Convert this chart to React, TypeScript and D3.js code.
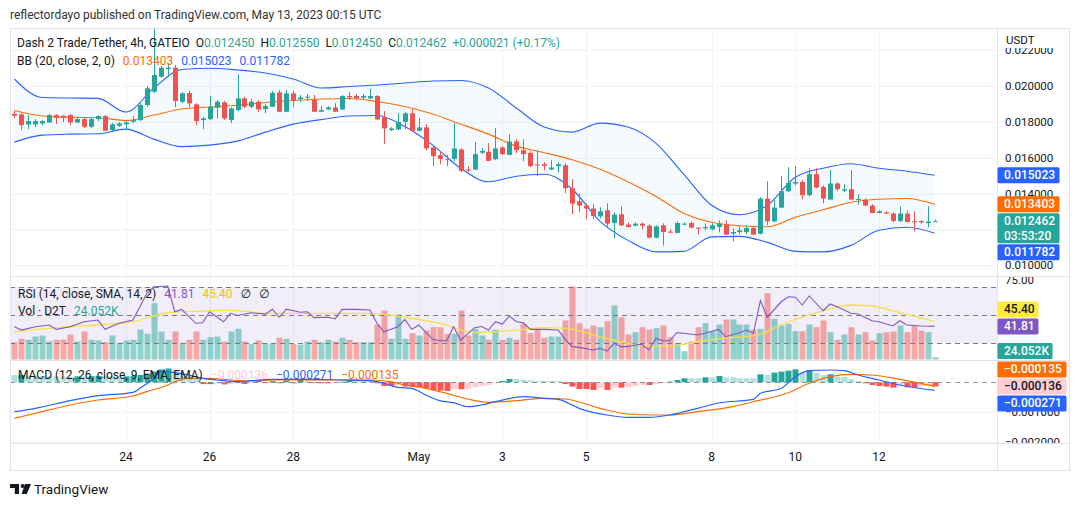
import React, { useEffect, useRef } from "react";
import * as d3 from "d3";

// Velas de 4h, D2T/USDT (GATEIO)
const opens = [
  0.018451, 0.018417, 0.017858, 0.017858, 0.017914, 0.01797, 0.018378, 0.018339, 0.018378, 0.01797,
  0.018155, 0.017724, 0.018155, 0.018322, 0.01754, 0.01778, 0.017858, 0.018004, 0.018099, 0.018937,
  0.019681, 0.020519, 0.02095, 0.021022, 0.019122, 0.019608, 0.018976, 0.018099, 0.018155, 0.018785,
  0.019089, 0.018099, 0.018658, 0.019312, 0.018842, 0.019122, 0.018714, 0.018842, 0.019643, 0.018563,
  0.019586, 0.019273, 0.019368, 0.019217, 0.018563, 0.018692, 0.018803, 0.018692, 0.01944, 0.01944,
  0.019346, 0.019312, 0.01944, 0.01825, 0.01754, 0.017579, 0.018004, 0.018473, 0.017501, 0.017691,
  0.016573, 0.016142, 0.015919, 0.015935, 0.016461, 0.015341, 0.015341, 0.016284, 0.016327, 0.015919,
  0.016573, 0.016159, 0.016908, 0.016422, 0.016271, 0.015624, 0.01564, 0.015341, 0.015528, 0.015583,
  0.014298, 0.013571, 0.01333, 0.013163, 0.012733, 0.013068, 0.012358, 0.012844, 0.012268, 0.012212,
  0.012324, 0.012212, 0.011542, 0.012229, 0.011877, 0.011807, 0.012285, 0.012358, 0.012101, 0.012062,
  0.012006, 0.012134, 0.012268, 0.011765, 0.011855, 0.011855, 0.012079, 0.011765, 0.013722, 0.012453,
  0.013219, 0.01413, 0.014561, 0.01465, 0.013906, 0.01508, 0.01437, 0.013666, 0.014561, 0.014164,
  0.014242, 0.013666, 0.013666, 0.01333, 0.012917, 0.012956, 0.012883, 0.01247, 0.012883, 0.012453,
  0.01247, 0.012358, 0.01245,
];
const highs = [
  0.018602, 0.01849, 0.018378, 0.018155, 0.018099, 0.018434, 0.018434, 0.018378, 0.018434, 0.018266,
  0.018211, 0.018211, 0.018378, 0.018378, 0.017931, 0.017987, 0.018043, 0.018322, 0.019049, 0.02,
  0.023242, 0.021117, 0.021285, 0.021173, 0.019664, 0.01972, 0.019049, 0.018266, 0.019457, 0.019217,
  0.019161, 0.018825, 0.020653, 0.019385, 0.019273, 0.019217, 0.018993, 0.01972, 0.019776, 0.019776,
  0.01972, 0.019496, 0.019552, 0.019496, 0.018881, 0.018881, 0.019049, 0.019496, 0.019664, 0.019552,
  0.019552, 0.019832, 0.019496, 0.018602, 0.017707, 0.01849, 0.018546, 0.018714, 0.018211, 0.017875,
  0.016701, 0.016366, 0.016142, 0.017931, 0.016534, 0.015527, 0.016869, 0.016534, 0.016813, 0.017652,
  0.016645, 0.017316, 0.017037, 0.017037, 0.016366, 0.016422, 0.015751, 0.015863, 0.015751, 0.015695,
  0.014801, 0.014018, 0.013459, 0.013403, 0.013235, 0.013459, 0.012956, 0.013291, 0.012397, 0.012397,
  0.012397, 0.012285, 0.012229, 0.012341, 0.012006, 0.012453, 0.012397, 0.012453, 0.012118, 0.012341,
  0.012341, 0.012509, 0.012509, 0.012062, 0.012174, 0.012229, 0.012174, 0.013794, 0.014689, 0.013627,
  0.014968, 0.015472, 0.015528, 0.014745, 0.015416, 0.015416, 0.014465, 0.015304, 0.014633, 0.014521,
  0.015304, 0.013962, 0.013738, 0.013403, 0.013068, 0.013012, 0.012956, 0.013291, 0.013068, 0.013012,
  0.012509, 0.013291, 0.01255,
];
const lows = [
  0.018227, 0.01754, 0.017596, 0.017707, 0.017819, 0.017931, 0.017875, 0.017987, 0.017819, 0.017931,
  0.017652, 0.017652, 0.018043, 0.017484, 0.017484, 0.017707, 0.01754, 0.017931, 0.018043, 0.018825,
  0.019608, 0.020447, 0.020503, 0.018825, 0.019049, 0.018825, 0.017819, 0.017596, 0.018099, 0.018194,
  0.018099, 0.017931, 0.018602, 0.01877, 0.01877, 0.018546, 0.01849, 0.018825, 0.018546, 0.018546,
  0.018801, 0.019105, 0.019161, 0.018546, 0.018546, 0.018658, 0.018546, 0.018658, 0.019217, 0.019217,
  0.019273, 0.019273, 0.018099, 0.016774, 0.017484, 0.01754, 0.017596, 0.017484, 0.017484, 0.016422,
  0.015527, 0.015639, 0.015527, 0.015807, 0.015192, 0.015192, 0.015304, 0.016198, 0.015807, 0.015863,
  0.016142, 0.016142, 0.016254, 0.015807, 0.015472, 0.014968, 0.015304, 0.015304, 0.015192, 0.014018,
  0.012844, 0.012956, 0.012565, 0.012565, 0.012621, 0.012062, 0.011503, 0.012174, 0.012118, 0.012174,
  0.012006, 0.011503, 0.011503, 0.011112, 0.011782, 0.011782, 0.012229, 0.012062, 0.011726, 0.01195,
  0.01195, 0.011838, 0.01167, 0.011335, 0.011726, 0.011726, 0.01167, 0.011726, 0.012229, 0.012397,
  0.013179, 0.014074, 0.014465, 0.013683, 0.013851, 0.014298, 0.013459, 0.013627, 0.01413, 0.014074,
  0.013627, 0.013403, 0.013291, 0.0129, 0.0129, 0.012844, 0.012397, 0.012397, 0.012397, 0.011894,
  0.012285, 0.012118, 0.01245,
];
const closes = [
  0.018339, 0.017819, 0.018043, 0.018043, 0.018043, 0.018378, 0.018227, 0.018227, 0.01797, 0.018155,
  0.017724, 0.018155, 0.018322, 0.017501, 0.017858, 0.017914, 0.01797, 0.018099, 0.018937, 0.019871,
  0.020614, 0.021022, 0.021022, 0.019161, 0.019586, 0.01903, 0.018043, 0.018194, 0.018842, 0.019122,
  0.018194, 0.018753, 0.019312, 0.018842, 0.019122, 0.018697, 0.018881, 0.019608, 0.018563, 0.019586,
  0.019178, 0.019368, 0.019402, 0.018563, 0.018658, 0.018803, 0.018563, 0.01944, 0.019368, 0.019312,
  0.01944, 0.01944, 0.018138, 0.017635, 0.017635, 0.018004, 0.018473, 0.017501, 0.017691, 0.016517,
  0.016086, 0.015935, 0.015863, 0.016517, 0.015262, 0.015304, 0.016198, 0.016383, 0.015824, 0.016517,
  0.016198, 0.016908, 0.016422, 0.016198, 0.015528, 0.015568, 0.015545, 0.015455, 0.01564, 0.014298,
  0.013442, 0.01333, 0.013163, 0.012749, 0.013012, 0.012324, 0.012827, 0.012229, 0.012134, 0.012324,
  0.012212, 0.011542, 0.012174, 0.011855, 0.011821, 0.012358, 0.012324, 0.012101, 0.012062, 0.012134,
  0.012229, 0.012324, 0.01171, 0.011855, 0.01195, 0.012079, 0.01171, 0.013722, 0.012453, 0.013219,
  0.01413, 0.014594, 0.01465, 0.013906, 0.01508, 0.014337, 0.013722, 0.014561, 0.014242, 0.014242,
  0.013666, 0.0137, 0.01333, 0.012917, 0.013012, 0.012883, 0.01247, 0.012883, 0.012414, 0.012436,
  0.012397, 0.012441, 0.012462,
];
// Volumen (miles de D2T)
const volumes = [
  173, 207, 197, 230, 240, 180, 197, 197, 250, 180, 280, 197, 190, 173, 240, 167, 190, 197, 300, 257,
  563, 280, 197, 280, 167, 197, 280, 197, 223, 230, 180, 280, 307, 180, 157, 190, 162, 157, 217, 207,
  157, 150, 180, 197, 173, 197, 180, 217, 197, 173, 173, 173, 350, 490, 207, 450, 207, 263, 240, 290,
  323, 323, 257, 257, 490, 240, 307, 240, 197, 297, 197, 217, 197, 357, 263, 307, 217, 230, 230, 390,
  730, 363, 307, 340, 323, 383, 540, 423, 250, 273, 323, 300, 313, 340, 223, 163, 83, 180, 323, 363,
  283, 350, 400, 400, 350, 350, 297, 307, 663, 407, 340, 357, 283, 283, 350, 323, 390, 273, 197, 250,
  323, 250, 273, 190, 263, 273, 280, 340, 273, 333, 290, 273, 24.052,
];

// Bandas de Bollinger (20, 2), leídas cada 4 velas
const bbIdx = [
  0, 4, 8, 12, 16, 20, 24, 28, 32, 36, 40, 44, 48, 52, 56, 60, 64, 68, 72, 76, 80, 84, 88, 92, 96,
  100, 104, 108, 112, 116, 120, 124, 128, 132,
];
const bbUpper = [
  0.020391, 0.019357, 0.019329, 0.019312, 0.018546, 0.019888, 0.020922, 0.020989, 0.020894, 0.020726,
  0.020391, 0.019888, 0.019972, 0.020055, 0.020167, 0.020279, 0.020307, 0.019888, 0.01877, 0.017708,
  0.017428, 0.017931, 0.017708, 0.016813, 0.01508, 0.013347, 0.012816, 0.013347, 0.014913, 0.015416,
  0.015667, 0.015416, 0.015248, 0.015023,
];
const bbBasis = [
  0.01863, 0.018323, 0.01825, 0.018228, 0.018071, 0.018378, 0.018714, 0.018826, 0.018926, 0.019077,
  0.019189, 0.019273, 0.019301, 0.019133, 0.018854, 0.018434, 0.017875, 0.017316, 0.016646, 0.016282,
  0.015891, 0.01536, 0.014661, 0.013851, 0.0129, 0.012397, 0.012202, 0.012146, 0.012677, 0.013096,
  0.013515, 0.013683, 0.013722, 0.013403,
];
const bbLower = [
  0.016869, 0.01726, 0.017316, 0.017333, 0.017596, 0.017037, 0.016618, 0.016701, 0.016925, 0.017428,
  0.017875, 0.018127, 0.018323, 0.018351, 0.017736, 0.016701, 0.015416, 0.014661, 0.014969, 0.01508,
  0.014242, 0.012453, 0.011391, 0.010748, 0.010776, 0.011587, 0.011615, 0.011279, 0.010776, 0.010748,
  0.011111, 0.01195, 0.012118, 0.011782,
];

// RSI (14) y su media
const rsiIdx = [
  0, 1, 3, 5, 6, 8, 10, 12, 13, 15, 17, 18, 19, 20, 22, 23, 24, 26, 27, 28, 30, 31, 32, 34, 36, 37,
  38, 39, 41, 42, 43, 45, 46, 47, 49, 51, 52, 53, 55, 56, 57, 58, 60, 61, 62, 63, 64, 66, 67, 68,
  69, 70, 71, 72, 73, 74, 76, 78, 79, 80, 81, 83, 84, 85, 86, 87, 88, 89, 90, 91, 92, 93, 94, 95,
  96, 98, 99, 101, 102, 104, 105, 106, 107, 108, 110, 111, 112, 113, 114, 116, 117, 118, 120, 121,
  123, 124, 126, 127, 128, 130, 132,
];
const rsiVals = [
  41.6, 39.2, 41.6, 42.8, 39.7, 41.6, 45.1, 46.3, 39.7, 44.0, 46.3, 55.8, 65.3, 70.0, 70.5, 52.2,
  53.9, 44.0, 44.4, 52.2, 45.1, 51.1, 49.5, 51.5, 50.5, 54.0, 48.3, 54.0, 51.8, 52.2, 48.0, 48.3,
  47.1, 53.9, 53.9, 53.4, 44.0, 38.0, 41.6, 46.8, 39.7, 42.8, 32.6, 31.6, 31.6, 41.6, 32.1, 40.9,
  41.7, 39.2, 45.1, 43.5, 49.2, 45.1, 44.4, 39.7, 39.7, 39.2, 32.6, 27.4, 26.9, 25.0, 26.2, 24.3,
  29.8, 27.4, 27.4, 28.6, 29.1, 25.0, 33.3, 31.6, 31.6, 37.3, 36.9, 35.7, 36.9, 39.7, 34.5, 37.3,
  39.2, 36.9, 60.1, 48.3, 59.3, 62.9, 62.5, 57.0, 63.4, 52.9, 57.7, 55.8, 51.1, 50.6, 45.8, 45.1,
  42.1, 45.8, 42.8, 42.1, 41.81,
];
const rsiMaIdx = [
  0, 8, 12, 17, 22, 27, 31, 36, 41, 47, 51, 56, 61, 66, 68, 72, 76, 79, 84, 88, 92, 94, 98, 103, 106,
  111, 116, 120, 123, 127, 132,
];
const rsiMaVals = [
  38.0, 41.6, 42.8, 45.1, 51.5, 52.7, 53.4, 51.1, 51.0, 51.1, 51.1, 48.3, 44.0, 37.6, 37.8, 39.2,
  40.9, 40.4, 34.5, 29.8, 27.9, 27.9, 30.9, 34.0, 35.0, 45.1, 52.9, 57.0, 56.3, 51.5, 45.4,
];

// MACD (12, 26, 9)
const histVals = [
  240, 245, 222, 215, 210, 205, 200, 195, 190, 200, 195, 205, 215, 200, 195, 190, 200, 220, 245, 290,
  360, 430, 460, 380, 290, 200, 110, -60, -60, -40, -70, -50, -10, -55, -20, 78, -20, 40, -30, 60,
  -33, 78, 40, -20, -33, -33, -20, 20, 78, 78, 78, 78, -33, -122, -122, -90, -144, -144, -167, -200,
  -255, -278, -289, -233, -233, -222, -167, -122, -90, -33, 44, 111, 111, 89, 67, 44, 44, 44, 44, -55,
  -144, -222, -222, -255, -200, -255, -178, -178, -167, -122, -89, -89, -55, -33, 22, 78, 133, 133, 133, 167,
  167, 211, 167, 167, 133, 133, 133, 266, 244, 322, 355, 389, 433, 322, 411, 322, 244, 266, 189, 189,
  100, 44, -33, -89, -122, -144, -178, -122, -167, -167, -144, -122, -136,
].map((v) => v / 1e6);
const macdIdx = [
  0, 3, 8, 12, 17, 18, 20, 21, 23, 25, 27, 29, 32, 34, 37, 42, 47, 51, 53, 55, 57, 59, 61, 63, 65,
  67, 69, 73, 76, 78, 81, 85, 88, 91, 94, 98, 101, 106, 107, 110, 112, 114, 117, 119, 121, 124, 127, 132,
];
const macdVals = [
  -980, -867, -613, -447, -333, -200, 133, 353, 320, 243, 133, 77, 20, 53, 100, 100, 77, 53, -33, -167,
  -200, -423, -613, -680, -813, -757, -647, -480, -533, -567, -867, -1090, -1167, -1167, -1090, -867,
  -690, -567, -367, -200, 187, 387, 410, 387, 243, 77, -90, -271,
].map((v) => v / 1e6);
const signalIdx = [
  0, 3, 8, 12, 17, 19, 22, 23, 25, 28, 31, 34, 37, 47, 51, 54, 56, 59, 62, 65, 68, 72, 76, 79, 84,
  88, 92, 94, 98, 103, 106, 111, 114, 117, 120, 123, 127, 132,
];
const signalVals = [
  -1200, -1033, -757, -590, -457, -313, -90, 20, 133, 133, 77, 43, 77, 77, 77, 20, -90, -200, -367,
  -557, -667, -613, -533, -557, -867, -1057, -1090, -1090, -980, -813, -647, -347, -33, 187, 267, 243,
  100, -135,
].map((v) => v / 1e6);

const dayIdx = [16, 28, 40, 58, 70, 82, 100, 112, 124];
const dayLabels = ["24", "26", "28", "May", "3", "5", "8", "10", "12"];
const priceTicks = [0.022, 0.02, 0.018, 0.016, 0.014, 0.012, 0.01];
const rsiTicks = [75, 50, 25];
const macdTicks = [0, -0.001, -0.002];
const countdown = "03:53:20";

const FONT = "Roboto, 'Noto Sans', 'DejaVu Sans', sans-serif";
const TXT = "#131722";
const UP = "#26a69a";
const DOWN = "#ef5350";

const App: React.FC = () => {
  const svgRef = useRef<SVGSVGElement>(null);

  useEffect(() => {
    document.body.style.margin = "0";
    const svg = d3.select(svgRef.current);
    svg.selectAll("*").remove();

    const L = 10, R = 997, AX = 1069;
    const T = 28, MAIN_B = 276, RSI_B = 360, MACD_B = 443, BOTTOM = 470;
    const n = closes.length;

    const x = d3.scaleLinear().domain([0, n - 1]).range([14.4, 934.7]);
    const yP = d3.scaleLinear().domain([0.01, 0.02]).range([265.3, 86]);
    const yR = d3.scaleLinear().domain([30, 70]).range([343, 286.7]);
    const yV = d3.scaleLinear().domain([0, 1000]).range([359.5, 259.5]);
    const yM = d3.scaleLinear().domain([-0.002, 0]).range([442.3, 382.3]);

    const defs = svg.append("defs");
    const clip = (id: string, cx: number, cy: number, w: number, h: number) =>
      defs.append("clipPath").attr("id", id).append("rect")
        .attr("x", cx).attr("y", cy).attr("width", w).attr("height", h);
    clip("cMain", L, T, R - L, MAIN_B - T);
    clip("cRsi", L, MAIN_B + 1, R - L, RSI_B - MAIN_B - 1);
    clip("cMacd", L, RSI_B + 1, R - L, MACD_B - RSI_B - 1);
    clip("aMain", R, T, AX - R, MAIN_B - T);
    clip("aRsi", R, MAIN_B + 1, AX - R, RSI_B - MAIN_B - 1);
    clip("aMacd", R, RSI_B + 1, AX - R, MACD_B - RSI_B - 1);

    svg.append("rect").attr("width", 1079).attr("height", 506).attr("fill", "#fff");

    // titulo
    svg.append("text").attr("x", 10).attr("y", 19)
      .attr("font-family", FONT).attr("font-size", 12).attr("fill", "#333")
      .text("reflectordayo published on TradingView.com, May 13, 2023 00:15 UTC");

    // rejilla
    const grid = svg.append("g").attr("stroke", "#f0f3fa").attr("stroke-width", 1);
    dayIdx.forEach((d) => {
      const gx = Math.round(x(d)) + 0.5;
      grid.append("line").attr("x1", gx).attr("x2", gx).attr("y1", T).attr("y2", MACD_B);
    });
    priceTicks.forEach((t) => {
      const gy = Math.round(yP(t)) + 0.5;
      if (gy > T && gy < MAIN_B)
        grid.append("line").attr("x1", L).attr("x2", R).attr("y1", gy).attr("y2", gy);
    });
    macdTicks.slice(1).forEach((t) => {
      const gy = Math.round(yM(t)) + 0.5;
      grid.append("line").attr("x1", L).attr("x2", R).attr("y1", gy).attr("y2", gy);
    });

    // ---- panel principal
    const main = svg.append("g").attr("clip-path", "url(#cMain)");
    const bbArea = d3.area<number>()
      .x((_, k) => x(bbIdx[k]))
      .y0((_, k) => yP(bbLower[k]))
      .y1((_, k) => yP(bbUpper[k]))
      .curve(d3.curveMonotoneX);
    main.append("path").datum(bbIdx).attr("d", bbArea).attr("fill", "rgba(33,150,243,0.05)");
    const bbLine = (vals: number[]) =>
      d3.line<number>().x((_, k) => x(bbIdx[k])).y((_, k) => yP(vals[k])).curve(d3.curveMonotoneX)(bbIdx);
    main.append("path").attr("d", bbLine(bbUpper)).attr("fill", "none").attr("stroke", "#2962ff").attr("stroke-width", 1.1);
    main.append("path").attr("d", bbLine(bbLower)).attr("fill", "none").attr("stroke", "#2962ff").attr("stroke-width", 1.1);
    main.append("path").attr("d", bbLine(bbBasis)).attr("fill", "none").attr("stroke", "#ff6d00").attr("stroke-width", 1.1);

    const candles = main.append("g");
    d3.range(n).forEach((i) => {
      const c = closes[i] >= opens[i] ? UP : DOWN;
      const cx = Math.round(x(i));
      candles.append("line")
        .attr("x1", cx + 0.5).attr("x2", cx + 0.5)
        .attr("y1", yP(highs[i])).attr("y2", yP(lows[i]))
        .attr("stroke", c).attr("stroke-width", 1);
      const top = Math.min(yP(opens[i]), yP(closes[i]));
      const h = Math.max(1, Math.abs(yP(opens[i]) - yP(closes[i])));
      candles.append("rect").attr("x", cx - 2).attr("y", top).attr("width", 5).attr("height", h).attr("fill", c);
    });

    // ---- RSI + volumen
    const rsiG = svg.append("g").attr("clip-path", "url(#cRsi)");
    rsiG.append("rect").attr("x", L).attr("width", R - L)
      .attr("y", yR(70)).attr("height", yR(30) - yR(70)).attr("fill", "rgba(126,87,194,0.1)");
    d3.range(n).forEach((i) => {
      const c = closes[i] >= opens[i] ? "rgba(38,166,154,0.5)" : "rgba(239,83,80,0.5)";
      const cx = Math.round(x(i));
      rsiG.append("rect").attr("x", cx - 2.5).attr("width", 6)
        .attr("y", yV(volumes[i])).attr("height", yV(0) - yV(volumes[i])).attr("fill", c);
    });
    [70, 50, 30].forEach((v) => {
      const gy = Math.round(yR(v)) + 0.5;
      rsiG.append("line").attr("x1", L).attr("x2", R).attr("y1", gy).attr("y2", gy)
        .attr("stroke", "#787b86").attr("stroke-dasharray", "5,4");
    });
    const rsiMaLine = d3.line<number>().x((d) => x(d)).y((_, k) => yR(rsiMaVals[k])).curve(d3.curveMonotoneX);
    rsiG.append("path").attr("d", rsiMaLine(rsiMaIdx)).attr("fill", "none").attr("stroke", "#f5e04a").attr("stroke-width", 1.3);
    const rsiLine = d3.line<number>().x((d) => x(d)).y((_, k) => yR(rsiVals[k]));
    rsiG.append("path").attr("d", rsiLine(rsiIdx)).attr("fill", "none").attr("stroke", "#7e57c2").attr("stroke-width", 1.1);

    // ---- MACD
    const macdG = svg.append("g").attr("clip-path", "url(#cMacd)");
    histVals.forEach((h, i) => {
      const prev = i > 0 ? histVals[i - 1] : h;
      const c = h >= 0 ? (h > prev ? "#26a69a" : "#b2dfdb") : (h > prev ? "#ffcdd2" : "#ff5252");
      const cx = Math.round(x(i));
      macdG.append("rect").attr("x", cx - 2.5).attr("width", 6)
        .attr("y", Math.min(yM(h), yM(0))).attr("height", Math.max(0.8, Math.abs(yM(h) - yM(0)))).attr("fill", c);
    });
    macdG.append("line").attr("x1", L).attr("x2", R).attr("y1", Math.round(yM(0)) + 0.5).attr("y2", Math.round(yM(0)) + 0.5)
      .attr("stroke", "#787b86").attr("stroke-dasharray", "5,4").attr("stroke-opacity", 0.8);
    const macdLine = d3.line<number>().x((d) => x(d)).y((_, k) => yM(macdVals[k])).curve(d3.curveMonotoneX);
    const sigLine = d3.line<number>().x((d) => x(d)).y((_, k) => yM(signalVals[k])).curve(d3.curveMonotoneX);
    macdG.append("path").attr("d", sigLine(signalIdx)).attr("fill", "none").attr("stroke", "#ff6d00").attr("stroke-width", 1.2);
    macdG.append("path").attr("d", macdLine(macdIdx)).attr("fill", "none").attr("stroke", "#2962ff").attr("stroke-width", 1.2);

    // ---- bordes
    const border = svg.append("g").attr("stroke", "#e0e3eb").attr("stroke-width", 1).attr("fill", "none");
    border.append("rect").attr("x", L + 0.5).attr("y", T + 0.5).attr("width", AX - L).attr("height", BOTTOM - T);
    border.append("line").attr("x1", R + 0.5).attr("x2", R + 0.5).attr("y1", T).attr("y2", BOTTOM + 0.5);
    [MAIN_B, RSI_B, MACD_B].forEach((yy) =>
      border.append("line").attr("x1", L).attr("x2", AX + 0.5).attr("y1", yy + 0.5).attr("y2", yy + 0.5));

    // ---- leyendas
    const legend = (lx: number, ly: number, segs: [string, string, number][], size = 12) => {
      const t = svg.append("text").attr("x", lx).attr("y", ly)
        .attr("font-family", FONT).attr("font-size", size).style("white-space", "pre");
      segs.forEach(([s, c, dx]) => t.append("tspan").attr("dx", dx).attr("fill", c).text(s));
    };
    const f6 = (v: number) => (v < 0 ? "\u2212" : "") + Math.abs(v).toFixed(6);
    const last = n - 1;
    const chg = closes[last] - closes[last - 1];
    const pct = (chg / closes[last - 1]) * 100;
    legend(17, 47, [
      ["Dash 2 Trade/Tether, 4h, GATEIO", TXT, 0],
      ["O", TXT, 6], [f6(opens[last]), UP, 0],
      ["H", TXT, 6], [f6(highs[last]), UP, 0],
      ["L", TXT, 6], [f6(lows[last]), UP, 0],
      ["C", TXT, 6], [f6(closes[last]), UP, 0],
      [`${chg >= 0 ? "+" : "\u2212"}${Math.abs(chg).toFixed(6)} (${pct >= 0 ? "+" : "\u2212"}${Math.abs(pct).toFixed(2)}%)`, UP, 6],
    ]);
    const bl = bbIdx.length - 1;
    legend(17, 64.5, [
      ["BB (20, close, 2, 0)", TXT, 0],
      [f6(bbBasis[bl]), "#ff6d00", 8],
      [f6(bbUpper[bl]), "#2962ff", 8],
      [f6(bbLower[bl]), "#2962ff", 8],
    ]);
    legend(18, 298, [
      ["RSI (14, close, SMA, 14, 2)", TXT, 0],
      [rsiVals[rsiVals.length - 1].toFixed(2), "#7e57c2", 8],
      [rsiMaVals[rsiMaVals.length - 1].toFixed(2), "#e8c700", 8],
      ["\u2205", TXT, 8], ["\u2205", TXT, 8],
    ]);
    legend(18, 315, [
      ["Vol \u00b7 D2T", TXT, 0],
      [volumes[last].toFixed(3) + "K", UP, 8],
    ]);
    legend(18, 379, [
      ["MACD (12, 26, close, 9, EMA, EMA)", TXT, 0],
      [f6(histVals[last]), "#ffcdd2", 8],
      [f6(macdVals[macdVals.length - 1]), "#2962ff", 8],
      [f6(signalVals[signalVals.length - 1]), "#ff6d00", 8],
    ]);

    // ---- etiquetas de valor (se calculan antes del eje para ocultar marcas tapadas)
    type Tag = { top: number; h: number; lines: string[]; fill: string; color: string };
    const tag = (v: number, scale: (v: number) => number, lines: string[], fill: string, color = "#fff"): Tag =>
      ({ top: scale(v) - 8, h: lines.length > 1 ? 30 : 16, lines, fill, color });
    const stack = (items: Tag[], anchor: number) => {
      for (let k = anchor - 1; k >= 0; k--) items[k].top = Math.min(items[k].top, items[k + 1].top - items[k].h - 1);
      for (let k = anchor + 1; k < items.length; k++) items[k].top = Math.max(items[k].top, items[k - 1].top + items[k - 1].h + 1);
    };
    const mainTags = [
      tag(bbUpper[bl], yP, [f6(bbUpper[bl])], "#2962ff"),
      tag(bbBasis[bl], yP, [f6(bbBasis[bl])], "#ff6d00"),
      tag(closes[last], yP, [f6(closes[last]), countdown], UP),
      tag(bbLower[bl], yP, [f6(bbLower[bl])], "#2962ff"),
    ];
    stack(mainTags, 2);
    const rsiTags = [
      tag(rsiMaVals[rsiMaVals.length - 1], yR, [rsiMaVals[rsiMaVals.length - 1].toFixed(2)], "#ffeb3b", TXT),
      tag(rsiVals[rsiVals.length - 1], yR, [rsiVals[rsiVals.length - 1].toFixed(2)], "#7e57c2"),
    ];
    stack(rsiTags, 1);
    const volTag = tag(volumes[last], yV, [volumes[last].toFixed(3) + "K"], UP);
    volTag.top = Math.min(volTag.top, RSI_B - 1 - volTag.h);
    const macdTags = [
      tag(signalVals[signalVals.length - 1], yM, [f6(signalVals[signalVals.length - 1])], "#ff6d00"),
      tag(histVals[last], yM, [f6(histVals[last])], "#ffcdd2", TXT),
      tag(macdVals[macdVals.length - 1], yM, [f6(macdVals[macdVals.length - 1])], "#2962ff"),
    ];
    stack(macdTags, 1);
    const allTags = [...mainTags, ...rsiTags, volTag, ...macdTags];
    const hidden = (ty: number) => allTags.some((tg) => ty >= tg.top && ty <= tg.top + tg.h);

    // ---- eje de precios
    const axisText = (g: any, ty: number, s: string) => {
      if (hidden(ty)) return;
      g.append("text").attr("x", 1005).attr("y", ty + 4).attr("font-family", FONT)
        .attr("font-size", 11.5).attr("fill", TXT).text(s);
    };
    const aMain = svg.append("g").attr("clip-path", "url(#aMain)");
    priceTicks.forEach((t) => axisText(aMain, yP(t), t.toFixed(6)));
    aMain.append("rect").attr("x", R + 1).attr("y", T + 1).attr("width", AX - R - 1).attr("height", 19).attr("fill", "#fff");
    aMain.append("text").attr("x", 1006).attr("y", 44).attr("font-family", FONT).attr("font-size", 11.5).attr("fill", TXT).text("USDT");
    const aRsi = svg.append("g").attr("clip-path", "url(#aRsi)");
    rsiTicks.forEach((v) => axisText(aRsi, yR(v), v.toFixed(2)));
    const aMacd = svg.append("g").attr("clip-path", "url(#aMacd)");
    macdTicks.forEach((t) => axisText(aMacd, yM(t), f6(t)));

    allTags.forEach((tg) => {
      const w = 7 * tg.lines[0].length + 6;
      svg.append("rect").attr("x", R + 0.5).attr("y", tg.top).attr("width", w).attr("height", tg.h)
        .attr("fill", tg.fill).attr("rx", 1.5);
      tg.lines.forEach((s, k) =>
        svg.append("text").attr("x", R + 7).attr("y", tg.top + 12 + k * 14.5)
          .attr("font-family", FONT).attr("font-size", 12).attr("font-weight", 500)
          .attr("fill", tg.color).text(s));
    });

    // ---- eje de tiempo
    dayIdx.forEach((d, k) =>
      svg.append("text").attr("x", x(d)).attr("y", 461).attr("text-anchor", "middle")
        .attr("font-family", FONT).attr("font-size", 12).attr("fill", TXT).text(dayLabels[k]));

    // ---- logo
    const logo = svg.append("g").attr("fill", TXT);
    logo.append("path").attr("d", "M10 484 H19 V494 H14.8 V488 H10 Z");
    logo.append("circle").attr("cx", 22.6).attr("cy", 486).attr("r", 2);
    logo.append("path").attr("d", "M25 484 H31 L26.8 494 H21.6 Z");
    svg.append("text").attr("x", 34).attr("y", 494).attr("font-family", FONT)
      .attr("font-size", 13.5).attr("fill", TXT).text("TradingView");
  }, []);

  return <svg ref={svgRef} width={1079} height={506} style={{ display: "block" }} />;
};

export default App;
